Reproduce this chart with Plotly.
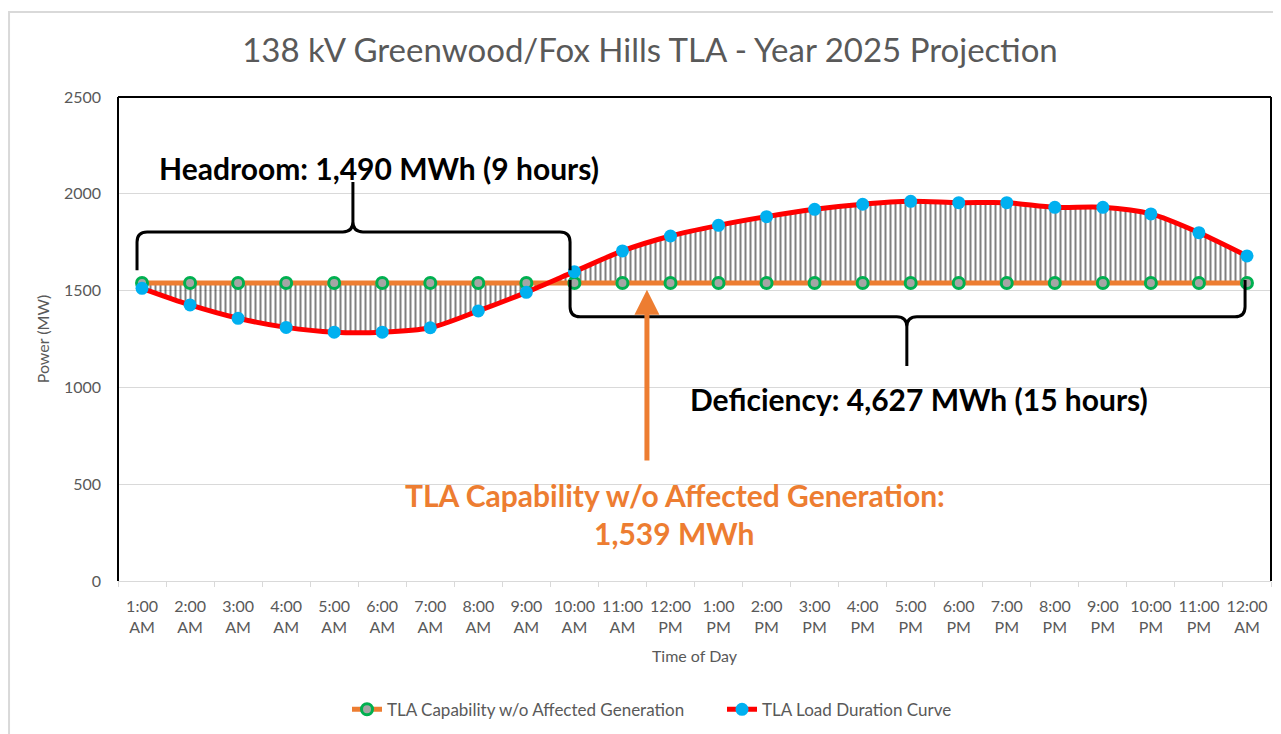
import plotly.graph_objects as go

# ---------------- data ----------------
hour_labels = ["1:00<br>AM", "2:00<br>AM", "3:00<br>AM", "4:00<br>AM", "5:00<br>AM", "6:00<br>AM",
               "7:00<br>AM", "8:00<br>AM", "9:00<br>AM", "10:00<br>AM", "11:00<br>AM", "12:00<br>PM",
               "1:00<br>PM", "2:00<br>PM", "3:00<br>PM", "4:00<br>PM", "5:00<br>PM", "6:00<br>PM",
               "7:00<br>PM", "8:00<br>PM", "9:00<br>PM", "10:00<br>PM", "11:00<br>PM", "12:00<br>AM"]
capability_mw = [1539, 1539, 1539, 1539, 1539, 1539, 1539, 1539, 1539, 1539, 1539, 1539,
                 1539, 1539, 1539, 1539, 1539, 1539, 1539, 1539, 1539, 1539, 1539, 1539]
load_mw = [1512, 1426, 1357, 1310, 1285, 1285, 1308, 1395, 1491, 1598, 1705, 1782,
           1837, 1882, 1920, 1946, 1961, 1954, 1954, 1930, 1930, 1896, 1799, 1679]
y_ticks = [0, 500, 1000, 1500, 2000, 2500]

x_idx = list(range(len(hour_labels)))

FONT = "Lato"
GRAY = "#595959"
ORANGE = "#ED7D31"

fig = go.Figure()

# hatch fill between the capability and the load curve
fig.add_trace(go.Scatter(x=x_idx, y=capability_mw, mode="lines", line=dict(width=0, color="rgba(0,0,0,0)"),
                         showlegend=False, hoverinfo="skip"))
fig.add_trace(go.Scatter(x=x_idx, y=load_mw, mode="lines",
                         line=dict(width=0, color="rgba(0,0,0,0)", shape="spline", smoothing=0.8),
                         fill="tonexty", fillcolor="rgba(0,0,0,0)",
                         fillpattern=dict(shape="|", size=5, solidity=0.4, fgcolor="black",
                                          bgcolor="rgba(0,0,0,0)", fillmode="overlay"),
                         showlegend=False, hoverinfo="skip"))

fig.add_trace(go.Scatter(x=x_idx, y=capability_mw, mode="lines+markers",
                         name="TLA Capability w/o Affected Generation",
                         line=dict(color=ORANGE, width=5),
                         marker=dict(size=11, color="#A5A5A5", line=dict(color="#00B050", width=3))))
fig.add_trace(go.Scatter(x=x_idx, y=load_mw, mode="lines+markers",
                         name="TLA Load Duration Curve",
                         line=dict(color="#FF0000", width=5, shape="spline", smoothing=0.8),
                         marker=dict(size=13, color="#00B0F0")))


def brace(x0, x1, xm, y_leg, y_bar, y_tip, rx, ry):
    s = 1 if y_tip > y_bar else -1
    return (f"M {x0},{y_leg} L {x0},{y_bar - s*ry} Q {x0},{y_bar} {x0+rx},{y_bar} "
            f"L {xm-rx},{y_bar} Q {xm},{y_bar} {xm},{y_bar + s*ry} L {xm},{y_tip} "
            f"M {xm},{y_bar + s*ry} Q {xm},{y_bar} {xm+rx},{y_bar} "
            f"L {x1-rx},{y_bar} Q {x1},{y_bar} {x1},{y_bar - s*ry} L {x1},{y_leg}")


shapes = [
    # chart area border
    dict(type="rect", xref="paper", yref="paper", x0=-0.0945, x1=1.03, y0=-0.35, y1=1.1756,
         line=dict(color="#D9D9D9", width=2), fillcolor="rgba(0,0,0,0)", layer="below"),
    # plot area frame (left/top/right black)
    dict(type="line", xref="paper", yref="paper", x0=0, x1=0, y0=0, y1=1, line=dict(color="black", width=2)),
    dict(type="line", xref="paper", yref="paper", x0=0, x1=1, y0=1, y1=1, line=dict(color="black", width=2)),
    dict(type="line", xref="paper", yref="paper", x0=1, x1=1, y0=0, y1=1, line=dict(color="black", width=2)),
    # braces
    dict(type="path", xref="x", yref="y",
         path=brace(-0.104, 8.91, 4.39, 1605, 1803, 2061, 0.21, 52),
         line=dict(color="black", width=3)),
    dict(type="path", xref="x", yref="y",
         path=brace(8.91, 22.96, 15.92, 1555, 1365, 1110, 0.21, 52),
         line=dict(color="black", width=3)),
]

annotations = [
    dict(x=4.93, y=2133, xref="x", yref="y", text="<b>Headroom: 1,490 MWh (9 hours)</b>",
         showarrow=False, font=dict(family=FONT, size=30, color="black")),
    dict(x=16.17, y=940, xref="x", yref="y", text="<b>Deficiency: 4,627 MWh (15 hours)</b>",
         showarrow=False, font=dict(family=FONT, size=30, color="black")),
    dict(x=11.09, y=444, xref="x", yref="y", text="<b>TLA Capability w/o Affected Generation:</b>",
         showarrow=False, font=dict(family=FONT, size=30, color=ORANGE)),
    dict(x=11.09, y=248, xref="x", yref="y", text="<b>1,539 MWh</b>",
         showarrow=False, font=dict(family=FONT, size=30, color=ORANGE)),
    # arrow
    dict(x=10.51, y=1505, xref="x", yref="y", ax=10.51, ay=615, axref="x", ayref="y",
         text="", showarrow=True, arrowhead=2, arrowsize=1.0, arrowwidth=5, arrowcolor=ORANGE),
]

W, H = 1273, 726  # page has an 8px body margin
fig.update_layout(
    width=W, height=H,
    margin=dict(l=110, r=10, t=89, b=153, autoexpand=False),
    paper_bgcolor="white", plot_bgcolor="white",
    font=dict(family=FONT, color=GRAY, size=15),
    title=dict(text="138 kV Greenwood/Fox Hills TLA - Year 2025 Projection",
               x=642 / W, xanchor="center", y=1 - 42 / H, yanchor="middle",
               font=dict(family=FONT, size=33, color=GRAY)),
    xaxis=dict(range=[-0.5, 23.5], tickmode="array", tickvals=x_idx, ticktext=hour_labels,
               ticks="", showgrid=False, zeroline=False, showline=True, linecolor="#D9D9D9", linewidth=1,
               automargin=False,
               tickfont=dict(family=FONT, size=16, color=GRAY), ticklabelstandoff=11,
               minor=dict(tickmode="array", tickvals=[i - 0.5 for i in range(25)], ticks="outside",
                          ticklen=5, tickcolor="#D9D9D9", showgrid=False),
               title=dict(text="Time of Day", font=dict(family=FONT, size=16, color=GRAY), standoff=15)),
    yaxis=dict(range=[0, 2500], tickmode="array", tickvals=y_ticks, ticks="",
               showgrid=True, gridcolor="#D9D9D9", gridwidth=1, zeroline=False, automargin=False,
               tickfont=dict(family=FONT, size=16, color=GRAY), ticklabelstandoff=16,
               title=dict(text="Power (MW)", font=dict(family=FONT, size=16, color=GRAY), standoff=10)),
    legend=dict(orientation="h", x=(347 - 118) / 1153, xanchor="left", y=-0.266, yanchor="middle",
                traceorder="normal", entrywidth=330, entrywidthmode="pixels",
                font=dict(family=FONT, size=17, color=GRAY), itemwidth=30),
    shapes=shapes,
    annotations=annotations,
)

fig.write_html("out.html")
